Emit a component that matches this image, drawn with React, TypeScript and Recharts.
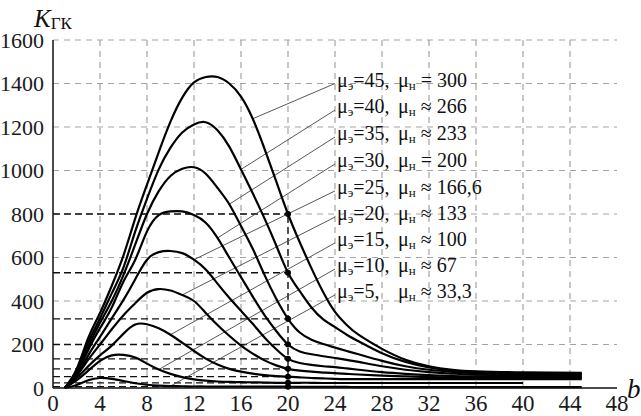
import { LineChart, Line, XAxis, YAxis, CartesianGrid, ReferenceLine, ReferenceDot } from "recharts";

// b values shared by all curves
const bValues = [1, 2, 3, 4, 5, 6, 7, 8, 9, 10, 11, 12, 13, 14, 15, 16, 17, 18, 19, 20, 21, 22, 23, 24, 25, 26, 28, 30, 32, 34, 36, 40, 45];

// K_ГК per curve
const mu45 = [0, 85, 230, 345, 470, 610, 780, 935, 1085, 1225, 1335, 1405, 1430, 1430, 1400, 1340, 1238, 1100, 950, 800, 670, 550, 440, 350, 290, 245, 180, 130, 100, 84, 77, 72, 70];
const mu40 = [0, 80, 210, 320, 435, 555, 720, 870, 1005, 1105, 1175, 1212, 1222, 1185, 1110, 1005, 895, 780, 655, 530, 445, 370, 315, 280, 245, 215, 160, 120, 95, 80, 73, 68, 66];
const mu35 = [0, 70, 190, 300, 400, 520, 660, 800, 905, 975, 1008, 1015, 985, 920, 845, 745, 640, 520, 410, 318, 255, 222, 202, 186, 170, 155, 125, 100, 84, 74, 68, 64, 62];
const mu30 = [0, 65, 175, 275, 370, 490, 590, 720, 795, 812, 812, 795, 760, 690, 600, 510, 420, 335, 262, 200, 168, 155, 146, 138, 129, 120, 100, 84, 73, 66, 61, 58, 56];
const mu25 = [0, 55, 150, 235, 320, 405, 500, 590, 625, 630, 620, 590, 545, 480, 415, 355, 295, 232, 178, 134, 115, 106, 100, 96, 90, 84, 73, 65, 59, 55, 53, 52, 51];
const mu20 = [0, 55, 130, 200, 270, 335, 390, 438, 455, 448, 428, 400, 345, 290, 240, 195, 158, 127, 104, 88, 80, 75, 71, 68, 65, 62, 57, 53, 50, 48, 47, 47, 46];
const mu15 = [0, 45, 100, 150, 195, 250, 292, 293, 275, 245, 208, 170, 135, 108, 88, 75, 66, 59, 55, 52, 49, 46, 44, 42, 41, 41, 41, 41, 41, 41, 41, 41, 41];
const mu10 = [0, 35, 80, 125, 150, 152, 140, 112, 85, 65, 50, 40, 34, 30, 28, 27, 26, 25, 24, 24, 24, 24, 23, 23, 23, 23, 23, 23, 23, 23, 23, 23, null];
const mu5 = [0, 14, 36, 46, 42, 32, 22, 15, 11, 9, 8, 7, 7, 6, 6, 6, 6, 6, 6, 6, 5, 5, 5, 5, 5, 4, 4, 4, 4, 4, 4, 4, 4];

const curves = [mu45, mu40, mu35, mu30, mu25, mu20, mu15, mu10, mu5];
const keys = ["m45", "m40", "m35", "m30", "m25", "m20", "m15", "m10", "m5"];

// legend text
const muE = ["45", "40", "35", "30", "25", "20", "15", "10", "5"];
const muNSign = ["=", "≈", "≈", "=", "≈", "≈", "≈", "≈", "≈"];
const muN = ["300", "266", "233", "200", "166,6", "133", "100", "67", "33,3"];

// where each label sits (b, K) and where its leader meets the curve (b)
const labelB = 24;
const labelK = [1400, 1278, 1154, 1030, 906, 786, 667, 547, 428];
const leaderEndB = [17, 16, 15, 14, 12, 11, 10, 9, 10];

const markB = 20;
const xTicks = [0, 4, 8, 12, 16, 20, 24, 28, 32, 36, 40, 44, 48];
const yTicks = [0, 200, 400, 600, 800, 1000, 1200, 1400, 1600];
const gridX = [4, 8, 12, 16, 20, 24, 28, 32, 36, 40, 44];
const gridY = [200, 400, 600, 800, 1000, 1200, 1400, 1600];

const rows = bValues.map((b, i) => {
  const row: Record<string, number | null> = { b };
  keys.forEach((k, j) => {
    row[k] = curves[j][i];
  });
  return row;
});

const valueAt = (curve: (number | null)[], b: number) => curve[bValues.indexOf(b)] as number;

const FONT = "Liberation Serif";

function YLabel(props: any) {
  const { viewBox } = props;
  const x = viewBox.x + 34;
  const y = viewBox.y - 13;
  return (
    <text x={x} y={y} fontFamily={FONT} fill="#111">
      <tspan fontSize={25} fontStyle="italic">K</tspan>
      <tspan fontSize={17} dy={2}>ГК</tspan>
    </text>
  );
}

function XLabel(props: any) {
  const { viewBox } = props;
  return (
    <text x={viewBox.x + viewBox.width + 10} y={viewBox.y + 10} fontFamily={FONT} fontSize={27} fontStyle="italic" fill="#111">
      b
    </text>
  );
}

const renderLegend = (i: number) => (props: any) => {
  const x = props.cx + 2;
  const y = props.cy + 3;
  return (
    <text x={x} y={y} fontFamily={FONT} fontSize={20} fill="#111">
      <tspan>μ</tspan>
      <tspan fontSize={13} dy={3}>э</tspan>
      <tspan dy={-3}>={muE[i]},</tspan>
      <tspan x={x + 61}>μ</tspan>
      <tspan fontSize={13} dy={3}>н</tspan>
      <tspan dy={-3}> {muNSign[i]} {muN[i]}</tspan>
    </text>
  );
};

export default function App() {
  return (
    <div style={{ position: "absolute", left: 0, top: 0, background: "#fff" }}>
      <LineChart width={641} height={416} data={rows} margin={{ top: 40, right: 24, bottom: 0, left: 0 }}>
        <CartesianGrid
          stroke="#a3a3a3"
          strokeDasharray="6 5"
          strokeWidth={1.2}
          verticalValues={gridX}
          horizontalValues={gridY}
        />
        <XAxis
          dataKey="b"
          type="number"
          domain={[0, 48]}
          ticks={xTicks}
          height={28}
          tickLine={false}
          axisLine={{ stroke: "#111", strokeWidth: 1.5 }}
          tickMargin={1}
          tick={{ fontSize: 23, fill: "#1a1a1a", fontFamily: FONT }}
          label={{ content: XLabel }}
        />
        <YAxis
          type="number"
          domain={[0, 1600]}
          ticks={yTicks}
          width={53}
          tickLine={false}
          axisLine={{ stroke: "#111", strokeWidth: 1.5 }}
          tickMargin={3}
          tick={{ fontSize: 22, fill: "#1a1a1a", fontFamily: FONT }}
          label={{ content: YLabel }}
        />
        {curves.map((c, i) => (
          <ReferenceLine
            key={"h" + i}
            segment={[{ x: 0, y: valueAt(c, markB) }, { x: markB, y: valueAt(c, markB) }]}
            stroke="#111"
            strokeWidth={1.3}
            strokeDasharray="7 4"
          />
        ))}
        <ReferenceLine
          segment={[{ x: markB, y: 0 }, { x: markB, y: valueAt(mu45, markB) }]}
          stroke="#111"
          strokeWidth={1.3}
          strokeDasharray="7 4"
        />
        {curves.map((c, i) => (
          <ReferenceLine
            key={"l" + i}
            segment={[{ x: labelB, y: labelK[i] }, { x: leaderEndB[i], y: valueAt(c, leaderEndB[i]) }]}
            stroke="#444"
            strokeWidth={0.9}
          />
        ))}
        {keys.map((k) => (
          <Line key={k} dataKey={k} type="natural" stroke="#000" strokeWidth={2.2} dot={false} isAnimationActive={false} />
        ))}
        {curves.map((c, i) => (
          <ReferenceDot key={"d" + i} x={markB} y={valueAt(c, markB)} r={3} fill="#000" stroke="none" />
        ))}
        {labelK.map((k, i) => (
          <ReferenceDot key={"t" + i} x={labelB} y={k} r={0} shape={renderLegend(i)} />
        ))}
      </LineChart>
    </div>
  );
}
